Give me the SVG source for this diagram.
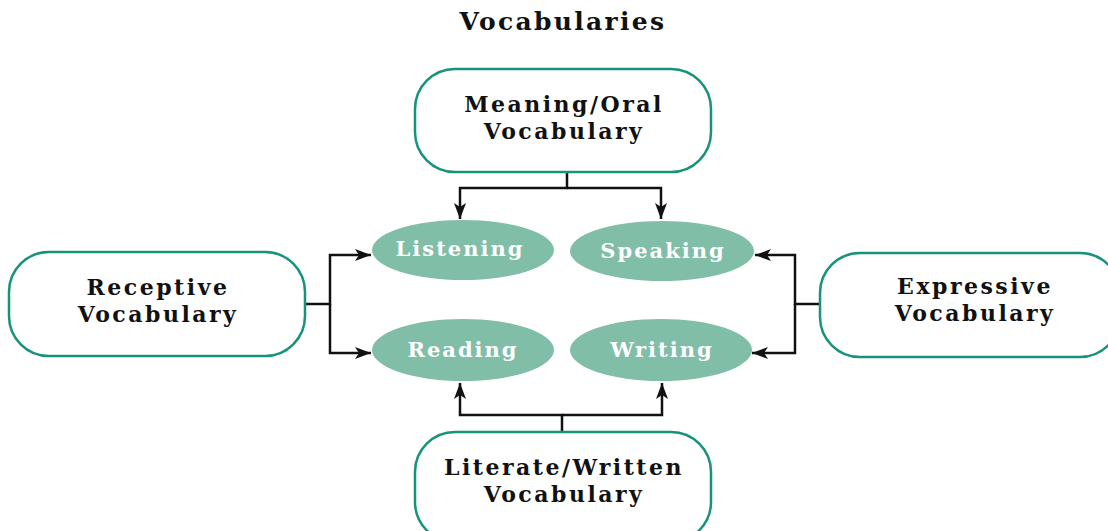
<svg xmlns="http://www.w3.org/2000/svg" width="1108" height="531" viewBox="0 0 1108 531">
<defs>
<style>
.box{fill:#fff;stroke:#16937a;stroke-width:2.5}
.ell{fill:#80bea7}
.t{font-family:"DejaVu Serif","Liberation Serif",serif;font-weight:bold;font-size:22px;letter-spacing:2.5px;text-anchor:middle;fill:#111}
.w{fill:#fff;font-size:21px;letter-spacing:2px}
.c{fill:none;stroke:#111;stroke-width:2.5}
</style>
<marker id="ah2" viewBox="0 0 16 12" refX="16" refY="6" markerWidth="16" markerHeight="12" markerUnits="userSpaceOnUse" orient="auto"><path d="M0,0 L16,6 L0,12 L4,6 Z" fill="#111"/></marker>
</defs>
<rect width="1108" height="531" fill="#fff"/>
<text class="t" x="563" y="30" style="font-size:25px;letter-spacing:2.3px">Vocabularies</text>
<g id="connectors">
<path class="c" d="M567,172 V188 H460 V219" marker-end="url(#ah2)"/>
<path class="c" d="M567,188 H661 V219" marker-end="url(#ah2)"/>
<path class="c" d="M305,304 H330 V255 H371" marker-end="url(#ah2)"/>
<path class="c" d="M330,304 V353 H371" marker-end="url(#ah2)"/>
<path class="c" d="M820,304 H795 V255 H755" marker-end="url(#ah2)"/>
<path class="c" d="M795,304 V353 H752" marker-end="url(#ah2)"/>
<path class="c" d="M562,432 V415 H460 V383" marker-end="url(#ah2)"/>
<path class="c" d="M562,415 H662 V383" marker-end="url(#ah2)"/>
</g>
<g id="meaning"><rect class="box" x="415" y="69" width="296" height="103" rx="40"/><text class="t" x="564" y="112">Meaning/Oral</text><text class="t" x="564" y="139">Vocabulary</text></g>
<g id="receptive"><rect class="box" x="9" y="252" width="296" height="104" rx="40"/><text class="t" x="158" y="295">Receptive</text><text class="t" x="158" y="322">Vocabulary</text></g>
<g id="expressive"><rect class="box" x="820" y="253" width="300" height="104" rx="40"/><text class="t" x="975" y="294">Expressive</text><text class="t" x="975" y="321">Vocabulary</text></g>
<g id="literate"><rect class="box" x="415" y="432" width="296" height="110" rx="40"/><text class="t" x="564" y="475">Literate/Written</text><text class="t" x="564" y="502">Vocabulary</text></g>
<g id="listening"><ellipse class="ell" cx="463" cy="250" rx="91" ry="30"/><text class="t w" x="460" y="256">Listening</text></g>
<g id="speaking"><ellipse class="ell" cx="662" cy="251" rx="92" ry="30"/><text class="t w" x="663" y="258">Speaking</text></g>
<g id="reading"><ellipse class="ell" cx="463" cy="350" rx="91" ry="31"/><text class="t w" x="463" y="357">Reading</text></g>
<g id="writing"><ellipse class="ell" cx="661" cy="350" rx="91" ry="31"/><text class="t w" x="662" y="357">Writing</text></g>
</svg>
